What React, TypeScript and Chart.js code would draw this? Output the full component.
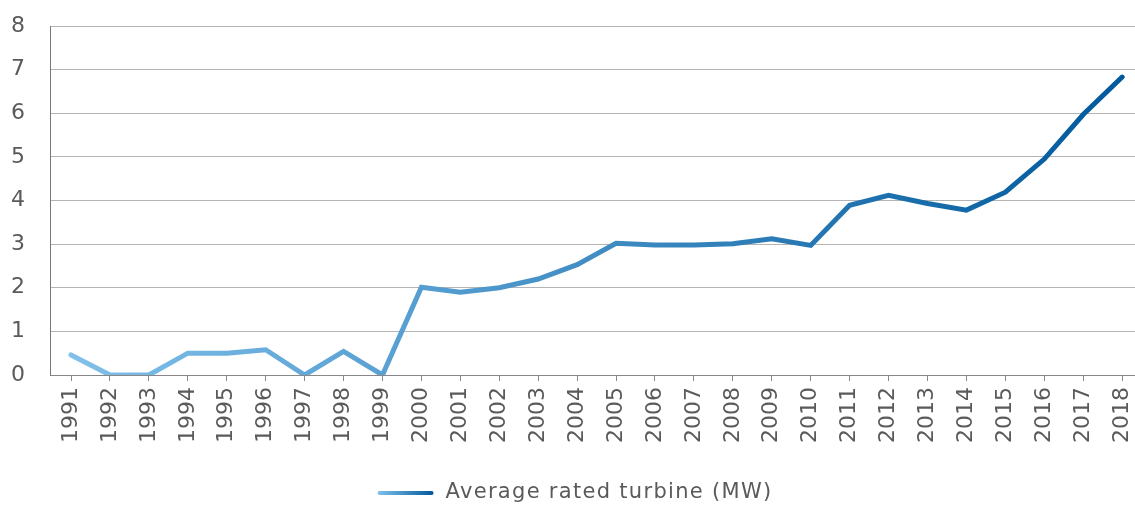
import React, { useEffect, useRef } from "react";
import { Chart, registerables } from "chart.js";

Chart.register(...registerables);

const years: number[] = [
  1991, 1992, 1993, 1994, 1995, 1996, 1997, 1998, 1999, 2000,
  2001, 2002, 2003, 2004, 2005, 2006, 2007, 2008, 2009, 2010,
  2011, 2012, 2013, 2014, 2015, 2016, 2017, 2018,
];
const avgRatedMW: number[] = [
  0.46, 0, 0, 0.5, 0.5, 0.58, 0, 0.54, 0, 2.01,
  1.9, 2.0, 2.2, 2.53, 3.02, 2.98, 2.98, 3.01, 3.12, 2.97,
  3.89, 4.12, 3.93, 3.78, 4.19, 4.95, 5.97, 6.83,
];
const yTicks: number[] = [0, 1, 2, 3, 4, 5, 6, 7, 8];
const seriesLabel = "Average rated turbine (MW)";

const FONT = "'DejaVu Sans', sans-serif";
const TEXT = "#5a5a5a";
const COLOR_START = "#80c0ea";
const COLOR_END = "#00599c";

const legendPlugin = {
  id: "customLegend",
  afterDraw(chart: any) {
    const ctx = chart.ctx as CanvasRenderingContext2D;
    ctx.save();
    ctx.font = `21px ${FONT}`;
    (ctx as any).letterSpacing = "1.3px";
    const textW = ctx.measureText(seriesLabel).width;
    const lineW = 56;
    const gap = 12;
    const total = lineW + gap + textW;
    const cx = 575;
    const x0 = cx - total / 2;
    const y = 493;
    const g = ctx.createLinearGradient(x0, 0, x0 + lineW, 0);
    g.addColorStop(0, COLOR_START);
    g.addColorStop(1, COLOR_END);
    ctx.strokeStyle = g;
    ctx.lineWidth = 4;
    ctx.lineCap = "round";
    ctx.beginPath();
    ctx.moveTo(x0 + 2, y);
    ctx.lineTo(x0 + lineW - 2, y);
    ctx.stroke();
    ctx.fillStyle = TEXT;
    ctx.textBaseline = "middle";
    ctx.textAlign = "left";
    ctx.fillText(seriesLabel, x0 + lineW + gap, y);
    ctx.restore();
  },
};

export default function App() {
  const ref = useRef<HTMLCanvasElement | null>(null);
  useEffect(() => {
    if (!ref.current) return;
    const chart = new Chart(ref.current, {
      type: "line",
      data: {
        datasets: [
          {
            label: seriesLabel,
            data: years.map((yr, i) => ({ x: yr, y: avgRatedMW[i] })),
            borderWidth: 5,
            pointRadius: 0,
            tension: 0,
            borderCapStyle: "round",
            borderColor: (c: any) => {
              const { chart } = c;
              const area = chart.chartArea;
              if (!area) return COLOR_END;
              const xs = chart.scales.x;
              const x1 = xs.getPixelForValue(years[0]);
              const x2 = xs.getPixelForValue(years[years.length - 1]);
              const g = chart.ctx.createLinearGradient(x1, 0, x2, 0);
              g.addColorStop(0, COLOR_START);
              g.addColorStop(1, COLOR_END);
              return g;
            },
          },
        ],
      },
      options: {
        animation: false,
        responsive: false,
        maintainAspectRatio: false,
        layout: { padding: { top: 26, left: 0, right: 0, bottom: 0 } },
        plugins: {
          legend: { display: false },
          tooltip: { enabled: false },
        },
        scales: {
          x: {
            type: "linear",
            min: 1990.46,
            max: 2018.33,
            afterBuildTicks: (scale: any) => {
              scale.ticks = years.map((v) => ({ value: v }));
            },
            afterFit: (scale: any) => {
              scale.paddingLeft = 0;
              scale.paddingRight = 0;
              scale.height = 132;
            },
            grid: {
              display: true,
              drawOnChartArea: false,
              drawTicks: true,
              tickLength: 6,
              color: "#888",
            },
            border: { display: true, color: "#888", width: 1 },
            ticks: {
              autoSkip: false,
              minRotation: 90,
              maxRotation: 90,
              padding: 6,
              color: TEXT,
              font: { family: FONT, size: 22 },
              callback: (v: any) => String(v),
            },
          },
          y: {
            min: 0,
            max: 8,
            afterBuildTicks: (scale: any) => {
              scale.ticks = yTicks.map((v) => ({ value: v }));
            },
            afterFit: (scale: any) => {
              scale.paddingTop = 0;
              scale.paddingBottom = 0;
              scale.width = 50;
            },
            grid: {
              color: "#b4b4b4",
              drawTicks: false,
              lineWidth: 1,
            },
            border: { display: true, color: "#777", width: 1 },
            ticks: {
              padding: 25,
              color: TEXT,
              font: { family: FONT, size: 22 },
            },
          },
        },
      },
      plugins: [legendPlugin],
    });
    return () => chart.destroy();
  }, []);
  return (
    <div style={{ position: "fixed", left: 0, top: 0, width: 1135, height: 507, background: "#fff" }}>
      <canvas ref={ref} width={1135} height={507} style={{ width: 1135, height: 507, display: "block" }} />
    </div>
  );
}
